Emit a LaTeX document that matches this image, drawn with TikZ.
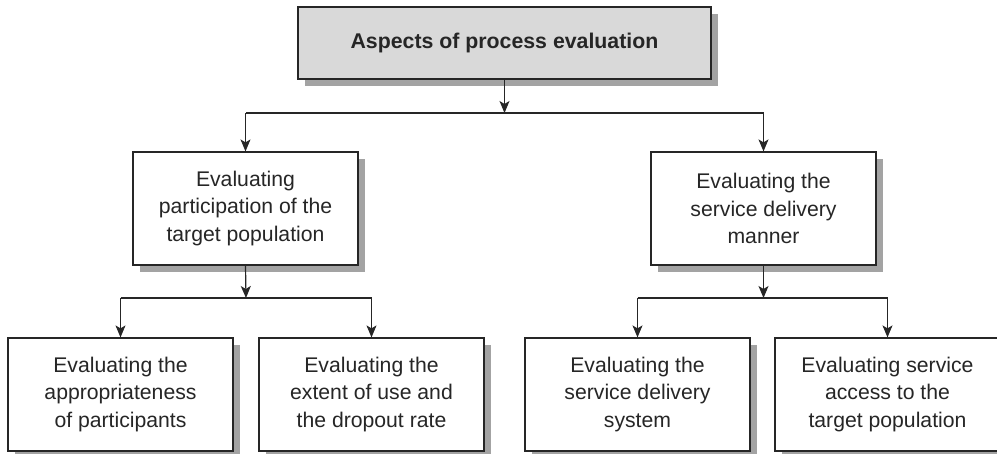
\documentclass[tikz,border=0pt]{standalone}
\usepackage{fontspec}
\setmainfont{Liberation Sans}
\usetikzlibrary{arrows.meta,shadows}
\definecolor{ln}{HTML}{262626}
\definecolor{topfill}{HTML}{D9D9D9}
\definecolor{shd}{HTML}{A3A3A3}
\tikzset{
  box/.style={draw=ln, line width=1.2pt, fill=white, rectangle, align=center,
    text=ln, font=\fontsize{21.2}{27.2}\selectfont, inner sep=0pt,
    minimum width=225pt, minimum height=113pt,
    general shadow={fill=shd, shadow xshift=7pt, shadow yshift=-7pt}},
  topbox/.style={box, fill=topfill, minimum width=413pt, minimum height=72pt,
    font=\fontsize{21.3}{27}\selectfont\bfseries},
  conn/.style={draw=ln, line width=1.2pt},
  arr/.style={conn, -{Stealth[length=12pt,width=10pt,inset=3pt]}}
}
\begin{document}
\begin{tikzpicture}[x=1pt,y=-1pt]
\useasboundingbox (0,0) rectangle (997,454);
\clip (0,0) rectangle (997,454);
\node[topbox] (top) at (504.5,43) {Aspects of process evaluation};
\node[box] (ml) at (245.5,208.5) {Evaluating\\participation of the\\target population};
\node[box] (mr) at (763.5,208.5) {Evaluating the\\service delivery\\manner};
\node[box] (b1) at (120.5,394.5) {Evaluating the\\appropriateness\\of participants};
\node[box] (b2) at (371.5,394.5) {Evaluating the\\extent of use and\\the dropout rate};
\node[box] (b3) at (637.5,394.5) {Evaluating the\\service delivery\\system};
\node[box] (b4) at (887.5,394.5) {Evaluating service\\access to the\\target population};
\coordinate (j0) at (504.5,113);
\coordinate (j1) at (246,298);
\coordinate (j2) at (763.5,298);
\draw[arr] (top.south) -- (j0);
\draw[conn] (j0) -- (j0 -| ml.north);
\draw[conn] (j0) -- (j0 -| mr.north);
\draw[arr] (j0 -| ml.north) -- (ml.north);
\draw[arr] (j0 -| mr.north) -- (mr.north);
\draw[arr] (ml.south) -- (j1);
\draw[conn] (j1 -| b1.north) -- (j1 -| b2.north);
\draw[arr] (j1 -| b1.north) -- (b1.north);
\draw[arr] (j1 -| b2.north) -- (b2.north);
\draw[arr] (mr.south) -- (j2);
\draw[conn] (j2 -| b3.north) -- (j2 -| b4.north);
\draw[arr] (j2 -| b3.north) -- (b3.north);
\draw[arr] (j2 -| b4.north) -- (b4.north);
\end{tikzpicture}
\end{document}
